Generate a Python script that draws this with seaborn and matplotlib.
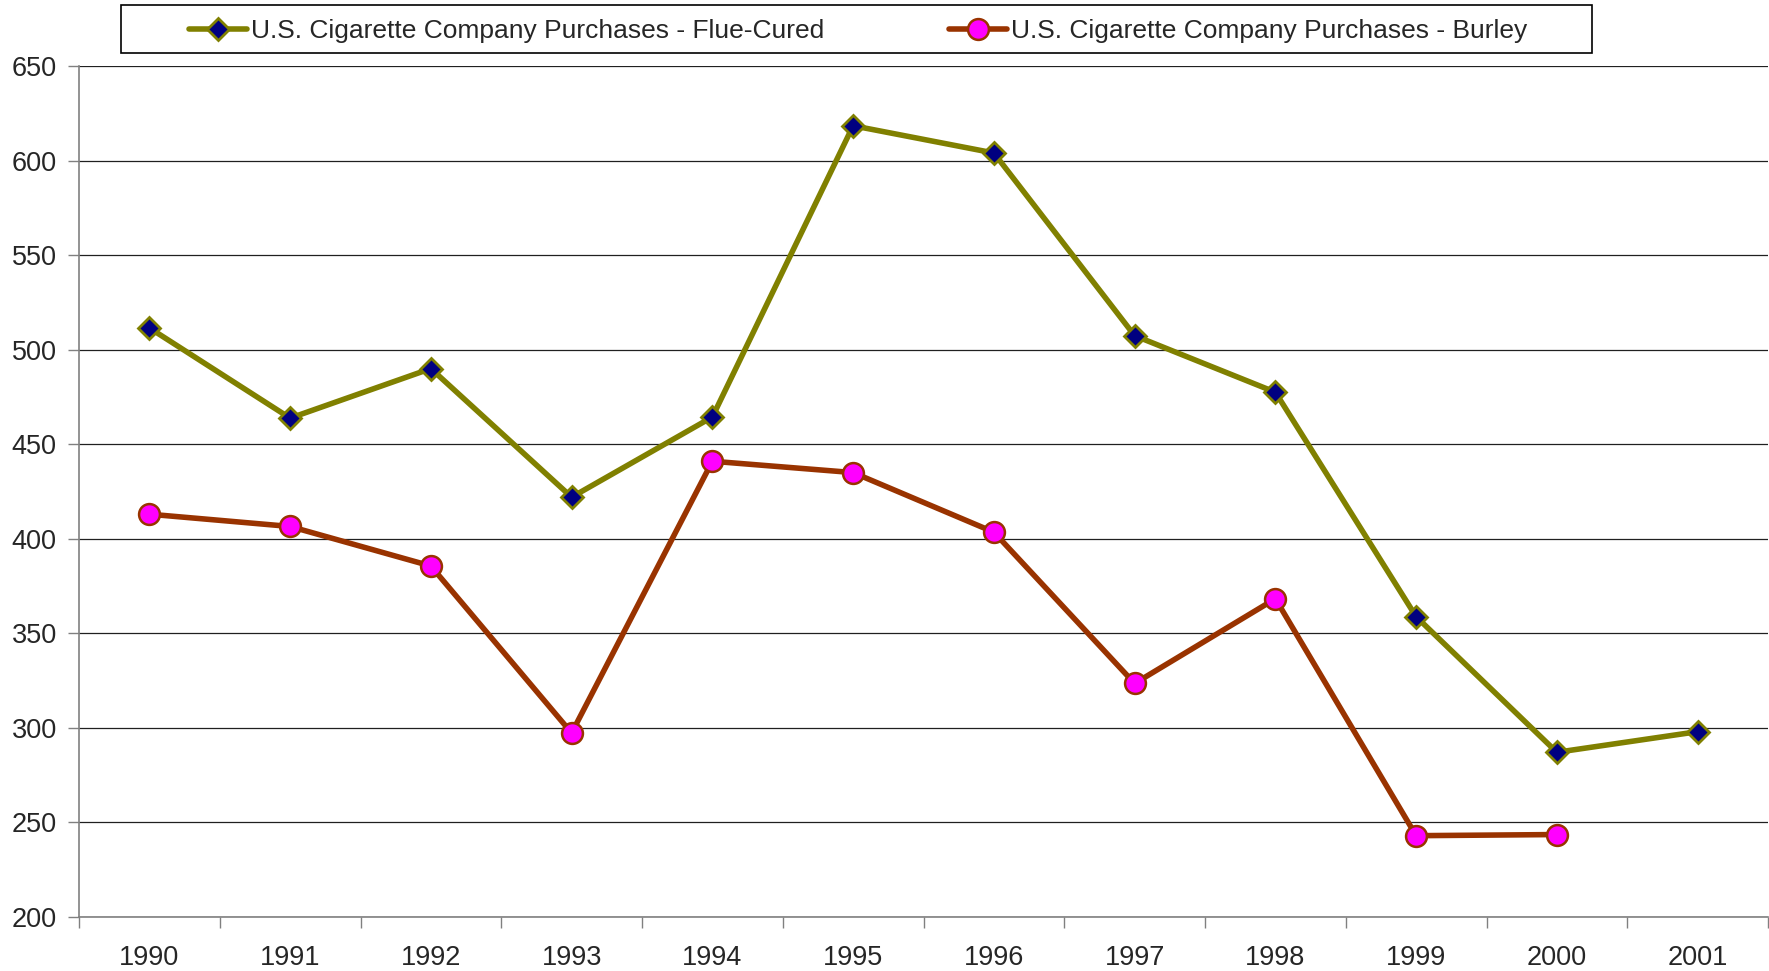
import numpy as np
import pandas as pd
import matplotlib
matplotlib.use("Agg")
import matplotlib.pyplot as plt
import seaborn as sns
from matplotlib.patches import Rectangle

# data
years = ["1990", "1991", "1992", "1993", "1994", "1995",
         "1996", "1997", "1998", "1999", "2000", "2001"]
flue_cured = [511.5, 463.8, 490.0, 422.0, 464.4, 618.4,
              604.0, 507.4, 477.5, 358.8, 287.1, 298.0]
burley = [413.0, 406.5, 385.6, 297.3, 441.0, 435.0,
          403.5, 323.5, 368.3, 243.0, 243.6, np.nan]
y_ticks = [200, 250, 300, 350, 400, 450, 500, 550, 600, 650]

lbl_flue = "U.S. Cigarette Company Purchases - Flue-Cured"
lbl_burley = "U.S. Cigarette Company Purchases - Burley"

df = pd.DataFrame({"pos": np.arange(len(years)), "flue": flue_cured, "burley": burley})

sns.set_style("white")
plt.rcParams["font.family"] = ["Liberation Sans", "DejaVu Sans"]

fig = plt.figure(figsize=(17.69, 9.71), dpi=100)
ax = fig.add_axes([79 / 1769, 54 / 971, 1689 / 1769, 851 / 971])

sns.lineplot(data=df, x="pos", y="flue", ax=ax, color="#808000", linewidth=4,
             marker="D", markersize=11.5, markerfacecolor="#000080",
             markeredgecolor="#808000", markeredgewidth=2, label=lbl_flue)
d2 = df.dropna(subset=["burley"])
sns.lineplot(data=d2, x="pos", y="burley", ax=ax, color="#993300", linewidth=4,
             marker="o", markersize=15, markerfacecolor="#FF00FF",
             markeredgecolor="#993300", markeredgewidth=1.8, label=lbl_burley)

ax.set_xlim(-0.5, len(years) - 0.5)
ax.set_ylim(200, 650)
ax.set_yticks(y_ticks)
ax.set_xticks(np.arange(len(years)))
ax.set_xticklabels(years)
ax.set_xticks(np.arange(len(years) + 1) - 0.5, minor=True)
ax.tick_params(axis="x", which="major", length=0, pad=20, labelsize=19.5)
ax.tick_params(axis="x", which="minor", length=8, width=1, color="#808080",
               direction="out", bottom=True)
ax.tick_params(axis="y", length=8, width=1, color="#808080", direction="out",
               left=True, pad=8, labelsize=19.5)
ax.set_xlabel("")
ax.set_ylabel("")

ax.grid(axis="y", color="#202020", linewidth=0.9)
ax.grid(axis="x", visible=False)
ax.set_axisbelow(True)
for s in ["top", "right"]:
    ax.spines[s].set_visible(False)
for s in ["left", "bottom"]:
    ax.spines[s].set_color("#808080")
    ax.spines[s].set_linewidth(1.2)

# legend box on top
leg = ax.legend(loc="center", bbox_to_anchor=(858 / 1769, 1 - 31 / 971),
                bbox_transform=fig.transFigure, ncol=2, frameon=False,
                fontsize=19, handlelength=2.2, handletextpad=0.15,
                columnspacing=4.7)
fig.patches.append(Rectangle((121 / 1769, 1 - 53 / 971), 1471 / 1769, 48 / 971,
                             transform=fig.transFigure, fill=False,
                             edgecolor="#000000", linewidth=1.2))

fig.savefig("out.png", dpi=100)
